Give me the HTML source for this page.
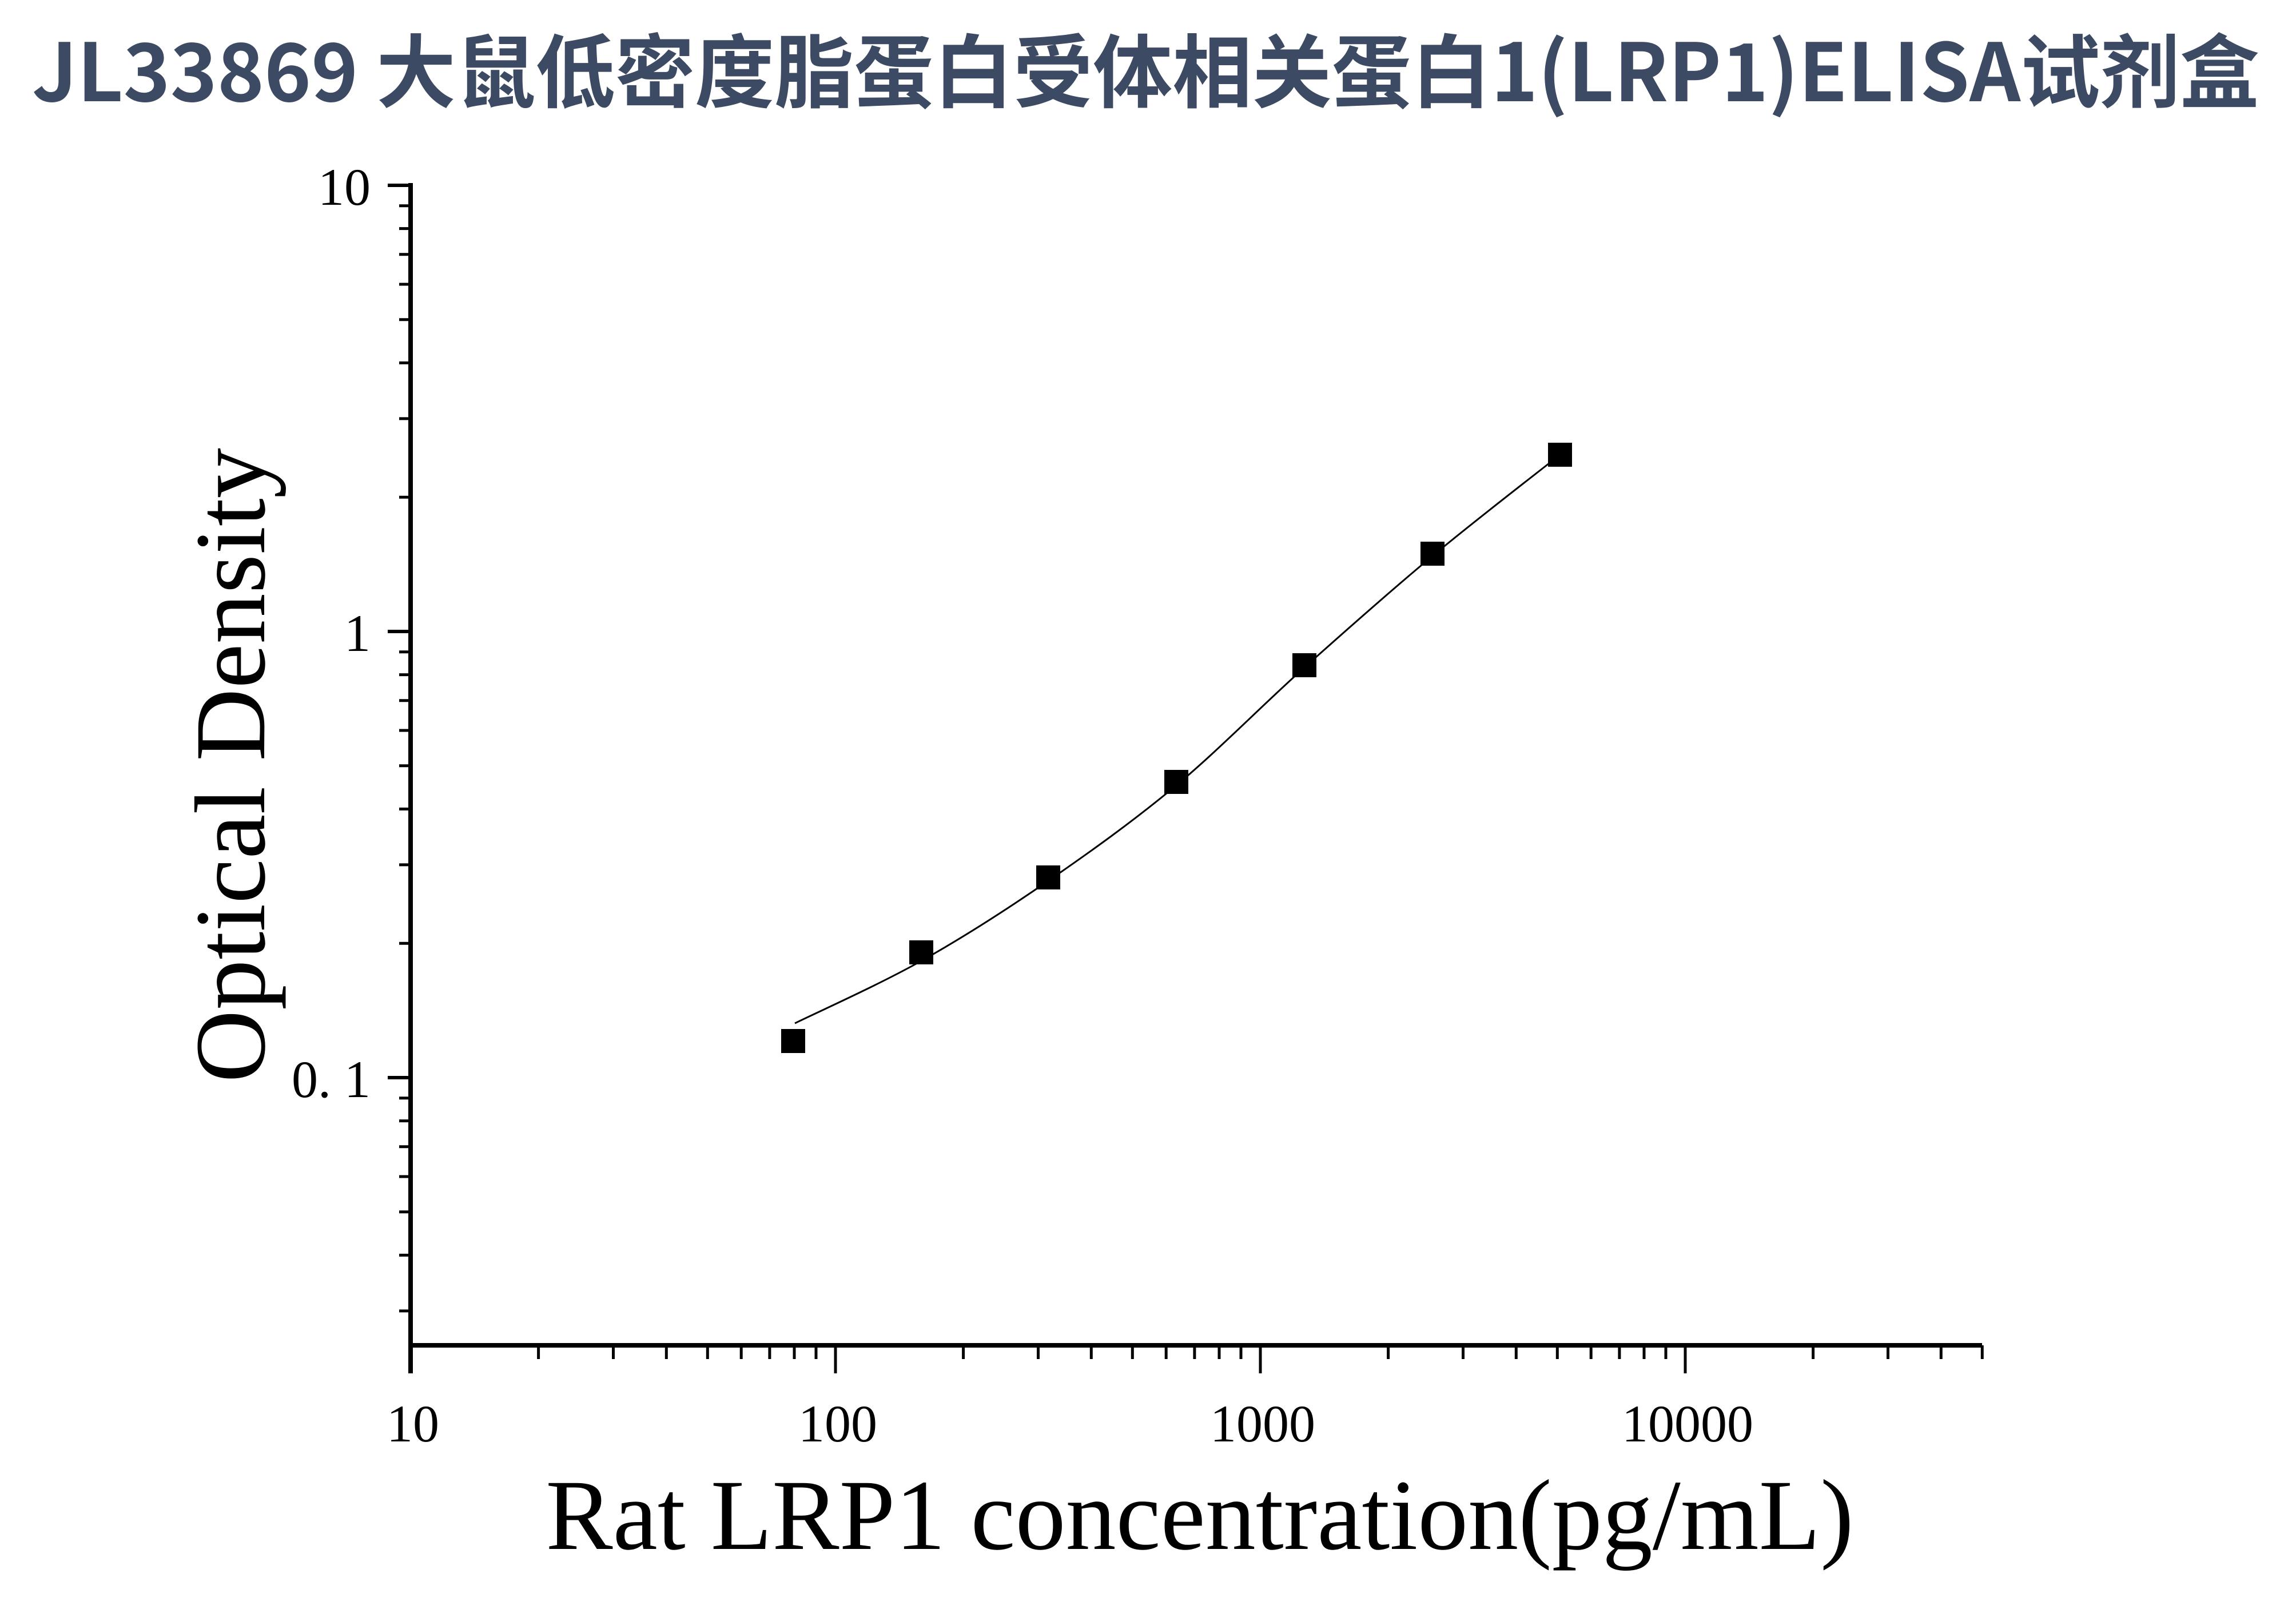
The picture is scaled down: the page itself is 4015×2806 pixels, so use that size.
<!DOCTYPE html>
<html><head><meta charset="utf-8"><style>
html,body{margin:0;padding:0;background:#fff;}
svg{display:block;}
</style></head><body>
<svg width="4015" height="2806" viewBox="0 0 4015 2806" xmlns="http://www.w3.org/2000/svg">
<rect width="4015" height="2806" fill="#fff"/>
<text x="56" y="177" font-family="'Noto Sans CJK SC','Liberation Sans',sans-serif" font-weight="bold" font-size="140" fill="#3d4a63" textLength="3895" lengthAdjust="spacingAndGlyphs">JL33869 大鼠低密度脂蛋白受体相关蛋白1(LRP1)ELISA试剂盒</text>
<g stroke="#000" fill="none">
<line x1="718" y1="320" x2="718" y2="2401" stroke-width="8"/>
<line x1="714" y1="2352" x2="3466" y2="2352" stroke-width="8"/>
<path stroke-width="6" d="M678,324H718M678,1104H718M678,1884H718"/>
<path stroke-width="5" d="M698,869.2H718M698,731.9H718M698,634.4H718M698,558.8H718M698,497H718M698,444.8H718M698,399.6H718M698,359.7H718
M698,1649.2H718M698,1511.9H718M698,1414.4H718M698,1338.8H718M698,1277H718M698,1224.8H718M698,1179.6H718M698,1139.7H718
M698,2291.9H718M698,2194.4H718M698,2118.8H718M698,2057H718M698,2004.8H718M698,1959.6H718M698,1919.7H718"/>
<path stroke-width="5" d="M718,2352V2401M1461,2352V2401M2204,2352V2401M2947,2352V2401
M941.6,2352V2376M1072.5,2352V2376M1165.3,2352V2376M1237.3,2352V2376M1296.2,2352V2376M1345.9,2352V2376M1389,2352V2376M1427,2352V2376
M1684.6,2352V2376M1815.5,2352V2376M1908.3,2352V2376M1980.3,2352V2376M2039.2,2352V2376M2088.9,2352V2376M2132,2352V2376M2170,2352V2376
M2427.6,2352V2376M2558.5,2352V2376M2651.3,2352V2376M2723.3,2352V2376M2782.2,2352V2376M2831.9,2352V2376M2875,2352V2376M2913,2352V2376
M3170.6,2352V2376M3301.5,2352V2376M3394.3,2352V2376M3466.3,2352V2376"/>
<path stroke-width="3" d="M1390,1789 C1426.8,1770.8 1537.2,1721.5 1611,1680 C1684.8,1638.5 1758.7,1591.2 1833,1540 C1907.3,1488.8 1982.3,1435.2 2057,1373 C2131.7,1310.8 2206.3,1233.8 2281,1167 C2355.7,1100.2 2430.5,1034 2505,972 C2579.5,910 2690.8,824.5 2728,795"/>
</g>
<g fill="#000">
<rect x="1366" y="1799" width="42" height="42"/>
<rect x="1590" y="1644" width="42" height="42"/>
<rect x="1812" y="1513" width="42" height="42"/>
<rect x="2036" y="1346" width="42" height="42"/>
<rect x="2260" y="1142" width="42" height="42"/>
<rect x="2484" y="947" width="42" height="42"/>
<rect x="2707" y="774" width="42" height="42"/>
</g>
<g font-family="'Liberation Serif',serif" font-size="92" fill="#000">
<text x="648" y="358" text-anchor="end">10</text>
<text x="648" y="1138" text-anchor="end">1</text>
<text x="648" y="1918" text-anchor="end">0. 1</text>
<text x="722" y="2520" text-anchor="middle">10</text>
<text x="1465" y="2520" text-anchor="middle">100</text>
<text x="2208" y="2520" text-anchor="middle">1000</text>
<text x="2951" y="2520" text-anchor="middle">10000</text>
</g>
<text x="2098" y="2708" text-anchor="middle" font-family="'Liberation Serif',serif" font-size="176" fill="#000">Rat LRP1 concentration(pg/mL)</text>
<text transform="translate(462,1338) rotate(-90)" text-anchor="middle" font-family="'Liberation Serif',serif" font-size="176" fill="#000">Optical Density</text>
</svg>
</body></html>
